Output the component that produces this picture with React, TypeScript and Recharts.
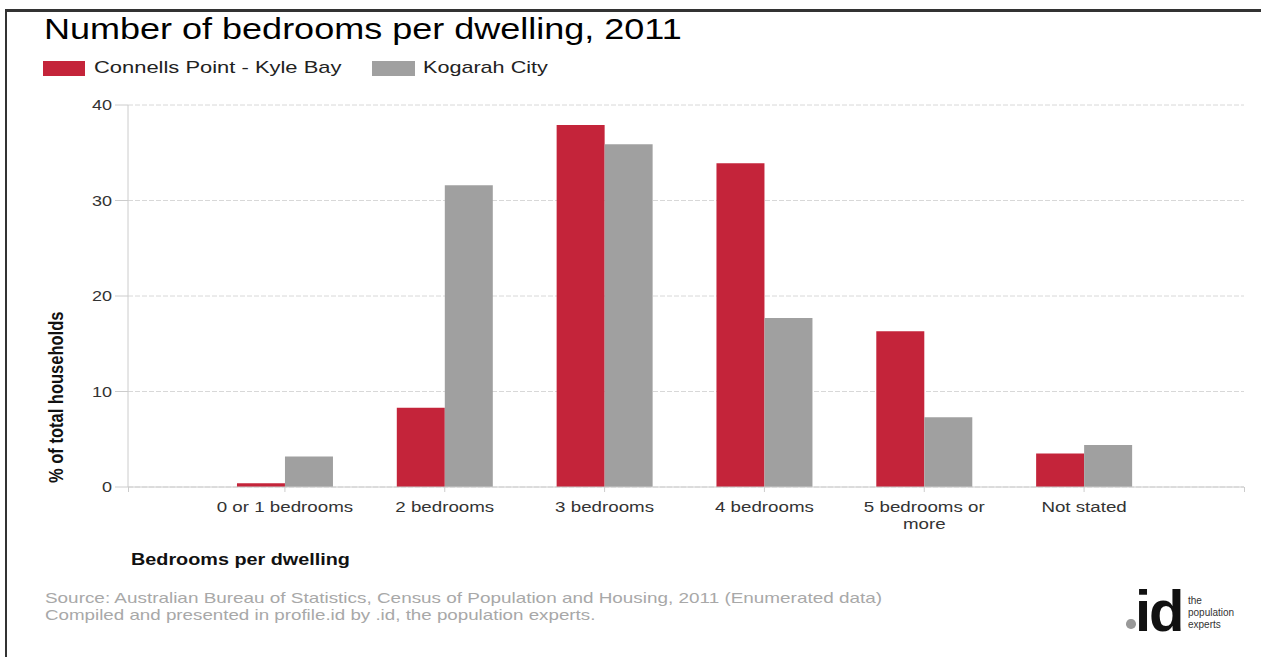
import { Bar, BarChart, CartesianGrid, XAxis, YAxis } from 'recharts';
import type { CSSProperties, ReactNode } from 'react';

const categories = ['0 or 1 bedrooms', '2 bedrooms', '3 bedrooms', '4 bedrooms', '5 bedrooms or more', 'Not stated'];
const connellsPoint = [0.4, 8.3, 37.9, 33.9, 16.3, 3.5];
const kogarahCity = [3.2, 31.6, 35.9, 17.7, 7.3, 4.4];
const yTicks = [0, 10, 20, 30, 40];

const RED = '#c4243a';
const GREY = '#a0a0a0';
const FONT = '"Liberation Sans", Arial, sans-serif';

const data = categories.map((name, i) => ({
  name,
  connells: connellsPoint[i],
  kogarah: kogarahCity[i],
}));

function wrap(text: string, max: number) {
  const lines: string[] = [];
  let cur = '';
  for (const w of text.split(' ')) {
    const next = cur ? cur + ' ' + w : w;
    if (next.length > max && cur) {
      lines.push(cur);
      cur = w;
    } else {
      cur = next;
    }
  }
  if (cur) lines.push(cur);
  return lines;
}

function XTick({ x, y, payload }: any) {
  const lines = wrap(String(payload.value), 15);
  return (
    <g transform={`translate(${x},${y})`}>
      {lines.map((line, i) => (
        <text
          key={i}
          transform={`translate(0,${18 + i * 17}) scale(1.25,1)`}
          textAnchor="middle"
          fontSize={15}
          fontFamily={FONT}
          fill="#333"
        >
          {line}
        </text>
      ))}
    </g>
  );
}

function YTick({ x, y, payload }: any) {
  return (
    <text
      transform={`translate(${x},${y}) scale(1.2,1)`}
      textAnchor="end"
      dy="0.36em"
      fontSize={15}
      fontFamily={FONT}
      fill="#333"
    >
      {payload.value}
    </text>
  );
}

function Txt({ left, top, size, k, children, style }: { left: number; top: number; size: number; k: number; children: ReactNode; style?: CSSProperties }) {
  return (
    <div
      style={{
        position: 'absolute',
        left,
        top,
        fontSize: size,
        lineHeight: 1,
        whiteSpace: 'nowrap',
        transform: `scaleX(${k})`,
        transformOrigin: 'left top',
        ...style,
      }}
    >
      {children}
    </div>
  );
}

export default function App() {
  return (
    <div style={{ position: 'absolute', left: 0, top: 0, width: 1261, height: 657, background: '#fff', fontFamily: FONT, overflow: 'hidden' }}>
      {/* frame */}
      <div style={{ position: 'absolute', left: 5, top: 9, width: 1256, height: 3, background: '#333' }} />
      <div style={{ position: 'absolute', left: 5, top: 9, width: 2, height: 648, background: '#333' }} />

      <Txt left={44} top={14} size={30} k={1.2} style={{ color: '#000' }}>
        Number of bedrooms per dwelling, 2011
      </Txt>

      {/* legend */}
      <div style={{ position: 'absolute', left: 43, top: 61, width: 42, height: 15, background: RED }} />
      <Txt left={94} top={59} size={17} k={1.29} style={{ color: '#222' }}>
        Connells Point - Kyle Bay
      </Txt>
      <div style={{ position: 'absolute', left: 372, top: 61, width: 43, height: 15, background: GREY }} />
      <Txt left={423} top={59} size={17} k={1.27} style={{ color: '#222' }}>
        Kogarah City
      </Txt>

      <div style={{ position: 'absolute', left: 0, top: 0 }}>
        <BarChart
          width={1261}
          height={657}
          data={data}
          margin={{ top: 105, right: 17, left: 68, bottom: 110 }}
          barCategoryGap="20%"
          barGap={0}
        >
          <CartesianGrid vertical={false} stroke="#d8d8d8" strokeDasharray="5 2" />
          <XAxis
            dataKey="name"
            height={60}
            interval={0}
            padding={{ left: 77, right: 80 }}
            axisLine={{ stroke: '#cccccc' }}
            tickLine={{ stroke: '#cccccc' }}
            tickSize={5}
            tickMargin={2}
            tick={<XTick />}
          />
          <YAxis
            width={60}
            domain={[0, 40]}
            ticks={yTicks}
            axisLine={{ stroke: '#cccccc' }}
            tickLine={{ stroke: '#cccccc' }}
            tickSize={13}
            tickMargin={3}
            tick={<YTick />}
          />
          <Bar dataKey="connells" fill={RED} isAnimationActive={false} />
          <Bar dataKey="kogarah" fill={GREY} isAnimationActive={false} />
        </BarChart>
      </div>

      {/* end ticks on x axis */}
      <div style={{ position: 'absolute', left: 127.5, top: 487, width: 1, height: 5, background: '#ccc' }} />
      <div style={{ position: 'absolute', left: 1243.5, top: 487, width: 1, height: 5, background: '#ccc' }} />

      {/* axis titles */}
      <div
        style={{
          position: 'absolute',
          left: 56 - 110,
          top: 397 - 8,
          width: 220,
          height: 16.5,
          fontSize: 16.5,
          lineHeight: 1,
          fontWeight: 'bold',
          textAlign: 'center',
          color: '#111',
          transform: 'rotate(-90deg) scale(1,1.2)',
          transformOrigin: 'center',
          whiteSpace: 'nowrap',
        }}
      >
        % of total households
      </div>
      <Txt left={131} top={551} size={16.5} k={1.2} style={{ fontWeight: 'bold', color: '#111' }}>
        Bedrooms per dwelling
      </Txt>

      {/* source */}
      <Txt left={45} top={590} size={15} k={1.26} style={{ color: '#a8a8a8' }}>
        Source: Australian Bureau of Statistics, Census of Population and Housing, 2011 (Enumerated data)
      </Txt>
      <Txt left={45} top={607} size={15} k={1.25} style={{ color: '#a8a8a8' }}>
        Compiled and presented in profile.id by .id, the population experts.
      </Txt>

      {/* logo */}
      <div style={{ position: 'absolute', left: 1126, top: 619, width: 9.5, height: 9.5, borderRadius: '50%', background: '#999' }} />
      <div style={{ position: 'absolute', left: 1135, top: 582, fontSize: 58, lineHeight: 1, fontWeight: 'bold', letterSpacing: -2, color: '#111' }}>
        id
      </div>
      <div style={{ position: 'absolute', left: 1188, top: 595, fontSize: 10, lineHeight: '12px', color: '#333' }}>
        the
        <br />
        population
        <br />
        experts
      </div>
    </div>
  );
}
